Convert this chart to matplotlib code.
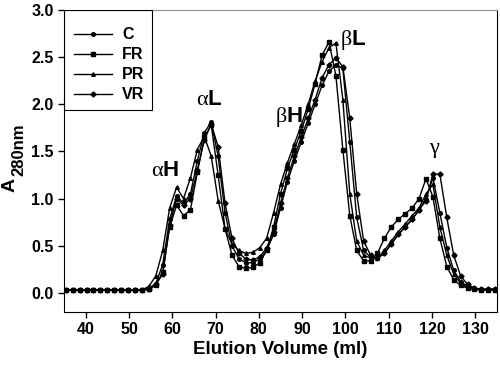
import matplotlib
matplotlib.use("Agg")
import matplotlib.pyplot as plt
from matplotlib.patches import Rectangle

plt.rcParams['font.family'] = ['Liberation Sans', 'DejaVu Sans']
plt.rcParams['mathtext.fontset'] = 'custom'
plt.rcParams['mathtext.it'] = 'Liberation Serif'
plt.rcParams['mathtext.rm'] = 'Liberation Serif'
plt.rcParams['mathtext.bf'] = 'Liberation Sans:bold'

# elution volume (ml) of each collected fraction
volume = [35.4, 37.0, 38.6, 40.2, 41.8, 43.4, 45.0, 46.6, 48.2, 49.8, 51.4, 53.0,
          54.6, 56.2, 57.8, 59.4, 61.0, 62.6, 64.2, 65.8, 67.4, 69.0, 70.6, 72.2,
          73.8, 75.4, 77.0, 78.6, 80.2, 81.8, 83.4, 85.0, 86.6, 88.2, 89.8, 91.4,
          93.0, 94.6, 96.2, 97.8, 99.4, 101.0, 102.6, 104.2, 105.8, 107.4, 109.0,
          110.6, 112.2, 113.8, 115.4, 117.0, 118.6, 120.2, 121.8, 123.4, 125.0,
          126.6, 128.2, 129.8, 131.4, 133.0, 134.6]

base = [0.03] * 12

c_abs = base + [0.05, 0.10, 0.30, 0.78, 1.03, 0.95, 1.05, 1.40, 1.70, 1.81, 1.45, 0.85,
                0.50, 0.36, 0.32, 0.32, 0.36, 0.45, 0.62, 0.90, 1.18, 1.40, 1.60, 1.80,
                2.00, 2.20, 2.35, 2.42, 2.38, 1.60, 0.80, 0.45, 0.38, 0.37, 0.42,
                0.52, 0.62, 0.70, 0.78, 0.88, 1.00, 1.22, 0.85, 0.48, 0.24,
                0.12, 0.07, 0.05, 0.04, 0.04, 0.04]
fr_abs = base + [0.04, 0.08, 0.22, 0.70, 0.93, 0.82, 0.88, 1.28, 1.65, 1.78, 1.25, 0.68,
                 0.40, 0.28, 0.26, 0.27, 0.32, 0.45, 0.70, 1.05, 1.32, 1.52, 1.72, 1.95,
                 2.22, 2.52, 2.66, 2.30, 1.52, 0.82, 0.45, 0.34, 0.34, 0.42, 0.58,
                 0.70, 0.78, 0.84, 0.90, 1.00, 1.21, 1.02, 0.58, 0.28, 0.14,
                 0.08, 0.05, 0.04, 0.03, 0.03, 0.03]
pr_abs = base + [0.07, 0.18, 0.45, 0.90, 1.12, 1.00, 1.22, 1.52, 1.66, 1.45, 0.98, 0.68,
                 0.52, 0.45, 0.42, 0.43, 0.48, 0.58, 0.85, 1.15, 1.38, 1.58, 1.78, 2.00,
                 2.25, 2.45, 2.60, 2.65, 2.05, 1.05, 0.55, 0.40, 0.37, 0.37, 0.45,
                 0.55, 0.65, 0.73, 0.82, 0.90, 1.05, 1.15, 0.70, 0.40, 0.20,
                 0.10, 0.06, 0.04, 0.03, 0.03, 0.03]
vr_abs = base + [0.04, 0.09, 0.20, 0.72, 1.00, 0.93, 1.00, 1.30, 1.62, 1.79, 1.55, 0.95,
                 0.58, 0.42, 0.36, 0.35, 0.38, 0.48, 0.65, 0.95, 1.22, 1.45, 1.65, 1.85,
                 2.05, 2.28, 2.42, 2.49, 2.40, 1.85, 1.05, 0.55, 0.40, 0.37, 0.42,
                 0.52, 0.62, 0.70, 0.78, 0.88, 0.98, 1.26, 1.26, 0.80, 0.40,
                 0.18, 0.09, 0.05, 0.04, 0.04, 0.04]

labels = ['C', 'FR', 'PR', 'VR']
markers = ['o', 's', '^', 'D']
series = [c_abs, fr_abs, pr_abs, vr_abs]

# peak names and where they sit
peak_names = [r'$\alpha$H', r'$\alpha$L', r'$\beta$H', r'$\beta$L', r'$\gamma$']
peak_x = [58.3, 68.5, 87.0, 101.7, 120.7]
peak_y = [1.30, 2.05, 1.86, 2.68, 1.52]

fig = plt.figure(figsize=(5.0, 3.69), dpi=100)
ax = fig.add_axes([0.128, 0.155, 0.866, 0.818])

for y, lab, m in zip(series, labels, markers):
    ax.plot(volume, y, color='black', lw=1.0, marker=m, ms=2.6, label=lab)

for name, px, py in zip(peak_names, peak_x, peak_y):
    ax.text(px, py, name, ha='center', va='center', fontsize=16, fontweight='bold')

ax.set_xlim(35, 135)
ax.set_ylim(-0.2, 3.0)
ax.set_xticks(range(40, 131, 10))
ax.set_yticks([0.0, 0.5, 1.0, 1.5, 2.0, 2.5, 3.0])
ax.set_yticklabels(['0.0', '0.5', '1.0', '1.5', '2.0', '2.5', '3.0'])
ax.tick_params(direction='out', length=4, width=1)
for t in ax.get_xticklabels() + ax.get_yticklabels():
    t.set_fontsize(11.5)
    t.set_fontweight('bold')
ax.spines['top'].set_color('#909090')

ax.set_xlabel('Elution Volume (ml)', fontsize=13.5, fontweight='bold', labelpad=3)
# y label: "A" with a big subscript, drawn as two rotated texts
fig.text(10 / 500, 1 - 185 / 369, 'A', rotation=90, ha='center', va='center',
         fontsize=14, fontweight='bold')
fig.text(19 / 500, 1 - 150 / 369, '280nm', rotation=90, ha='center', va='center',
         fontsize=12, fontweight='bold')

# legend without its own frame, box drawn separately so it can be taller
leg = ax.legend(loc='upper left', bbox_to_anchor=(0.0, 0.975), borderaxespad=0,
                frameon=False, handlelength=2.4, handletextpad=0.65, borderpad=0.6,
                prop={'weight': 'bold', 'size': 11.5}, labelspacing=0.32)
ax.add_patch(Rectangle((0.0, 0.668), 0.203, 0.332, transform=ax.transAxes,
                       fill=False, edgecolor='black', lw=0.8, zorder=5))

fig.savefig('out.png', dpi=100)
